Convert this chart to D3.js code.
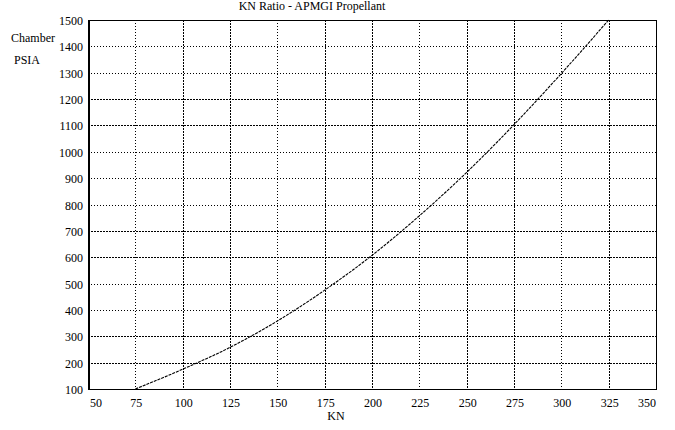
<!DOCTYPE html>
<html><head><meta charset="utf-8">
<script src="https://cdn.jsdelivr.net/npm/d3@7"></script>
<style>
html,body{margin:0;padding:0;background:#fff;}
text{font-family:"Liberation Serif","Times New Roman",serif;fill:#000;}
</style></head>
<body>
<svg id="c" width="675" height="430"></svg>
<script>
const kn = [75, 100, 125, 150, 175, 200, 225, 250, 275, 300, 325];
const psia = [100, 175, 258, 358, 475, 607, 757, 922, 1103, 1297, 1500];
const xTicks = [50, 75, 100, 125, 150, 175, 200, 225, 250, 275, 300, 325, 350];
const yTicks = [100, 200, 300, 400, 500, 600, 700, 800, 900, 1000, 1100, 1200, 1300, 1400, 1500];
const vGridDashed = [100, 125, 175, 200, 250, 275, 325];
const hGridDashed = [200, 300, 600, 700, 1100, 1200];

const svg = d3.select("#c");
const L = 88, R = 656, T = 20, B = 389;
const x = d3.scaleLinear().domain([50, 350]).range([L, R]);
const y = d3.scaleLinear().domain([100, 1500]).range([B, T]);

const g = svg.append("g").attr("shape-rendering", "crispEdges");
// vertical grid
g.selectAll(".vg").data(xTicks.slice(1, -1)).enter().append("line")
  .attr("x1", d => Math.round(x(d)) + 0.5).attr("x2", d => Math.round(x(d)) + 0.5)
  .attr("y1", T).attr("y2", B)
  .attr("stroke", "#000").attr("stroke-width", 1)
  .attr("stroke-dasharray", d => vGridDashed.includes(d) ? "2,1" : "1,2");
// horizontal grid
g.selectAll(".hg").data(yTicks.slice(1, -1)).enter().append("line")
  .attr("y1", d => Math.round(y(d)) + 0.5).attr("y2", d => Math.round(y(d)) + 0.5)
  .attr("x1", L).attr("x2", R)
  .attr("stroke", "#000").attr("stroke-width", 1)
  .attr("stroke-dasharray", d => hGridDashed.includes(d) ? "2,1" : "1,2");

// frame
g.append("line").attr("x1", L + 0.5).attr("x2", R + 0.5).attr("y1", T + 0.5).attr("y2", T + 0.5).attr("stroke", "#000");
g.append("line").attr("x1", R + 0.5).attr("x2", R + 0.5).attr("y1", T).attr("y2", B + 1).attr("stroke", "#000");
g.append("line").attr("x1", L).attr("x2", R + 1).attr("y1", B + 0.5).attr("y2", B + 0.5).attr("stroke", "#000");
g.append("line").attr("x1", L + 1).attr("x2", L + 1).attr("y1", T).attr("y2", B + 1).attr("stroke", "#000").attr("stroke-width", 2);

// curve
const line = d3.line().x((d, i) => x(kn[i])).y(d => y(d)).curve(d3.curveMonotoneX);
svg.append("path").datum(psia).attr("d", line)
  .attr("fill", "none").attr("stroke", "#000").attr("stroke-width", 1.1)
  .attr("stroke-dasharray", "3,1");

// y tick labels
svg.selectAll(".yl").data(yTicks).enter().append("text")
  .attr("x", 83).attr("y", d => y(d) + 5)
  .attr("text-anchor", "end").attr("font-size", 12)
  .text(d => d);

// x tick labels
svg.selectAll(".xl").data(xTicks).enter().append("text")
  .attr("x", (d, i) => i === 0 ? x(d) + 2 : (i === xTicks.length - 1 ? x(d) : x(d) + 1))
  .attr("y", 407)
  .attr("text-anchor", (d, i) => i === 0 ? "start" : (i === xTicks.length - 1 ? "end" : "middle"))
  .attr("font-size", 12)
  .text(d => d);

svg.append("text").attr("x", 312).attr("y", 10).attr("text-anchor", "middle").attr("font-size", 12).text("KN Ratio - APMGI Propellant");
svg.append("text").attr("x", 11).attr("y", 42).attr("font-size", 12).text("Chamber");
svg.append("text").attr("x", 14).attr("y", 64).attr("font-size", 12).text("PSIA");
svg.append("text").attr("x", 336).attr("y", 420).attr("text-anchor", "middle").attr("font-size", 12).text("KN");
</script>
</body></html>
